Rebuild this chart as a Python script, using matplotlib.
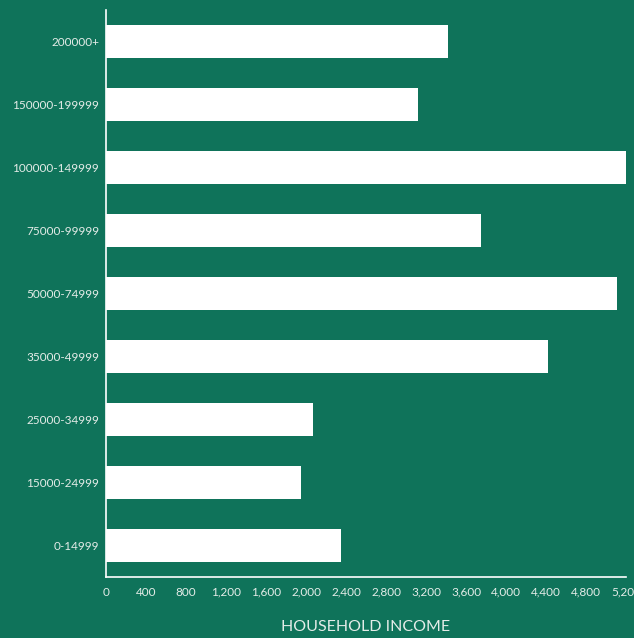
import matplotlib
matplotlib.use("Agg")
import matplotlib.pyplot as plt
from matplotlib.ticker import FuncFormatter, MultipleLocator

# household income brackets, bottom to top as drawn
categories = [
    "0-14999",
    "15000-24999",
    "25000-34999",
    "35000-49999",
    "50000-74999",
    "75000-99999",
    "100000-149999",
    "150000-199999",
    "200000+",
]
counts = [2350, 1950, 2070, 4420, 5110, 3750, 5195, 3120, 3420]

BG = "#0f735a"
FG = "#ffffff"
TXT = "#e4ece8"

plt.rcParams["font.family"] = ["Lato", "DejaVu Sans"]

fig = plt.figure(figsize=(6.34, 6.38), dpi=100, facecolor=BG)
ax = fig.add_axes([106 / 634, 1 - 577 / 638, 520 / 634, 567 / 638])
ax.set_facecolor(BG)

ax.barh(range(len(categories)), counts, height=0.51, color=FG)

ax.set_xlim(0, 5200)
ax.set_ylim(-0.5, len(categories) - 0.5)
ax.set_yticks(range(len(categories)))
ax.set_yticklabels(categories)
ax.xaxis.set_major_locator(MultipleLocator(400))
ax.xaxis.set_major_formatter(FuncFormatter(lambda v, _: f"{int(v):,}"))

ax.tick_params(axis="both", length=0, colors=TXT, labelsize=8.5)
ax.tick_params(axis="x", pad=7)
ax.tick_params(axis="y", pad=5)
for lbl in ax.get_xticklabels():
    lbl.set_clip_on(False)

for side in ("top", "right"):
    ax.spines[side].set_visible(False)
for side in ("left", "bottom"):
    ax.spines[side].set_color(FG)
    ax.spines[side].set_linewidth(1.2)

ax.set_xlabel("HOUSEHOLD INCOME", color=TXT, fontsize=11.5, labelpad=16)

fig.savefig("out.png", dpi=100, facecolor=BG)
